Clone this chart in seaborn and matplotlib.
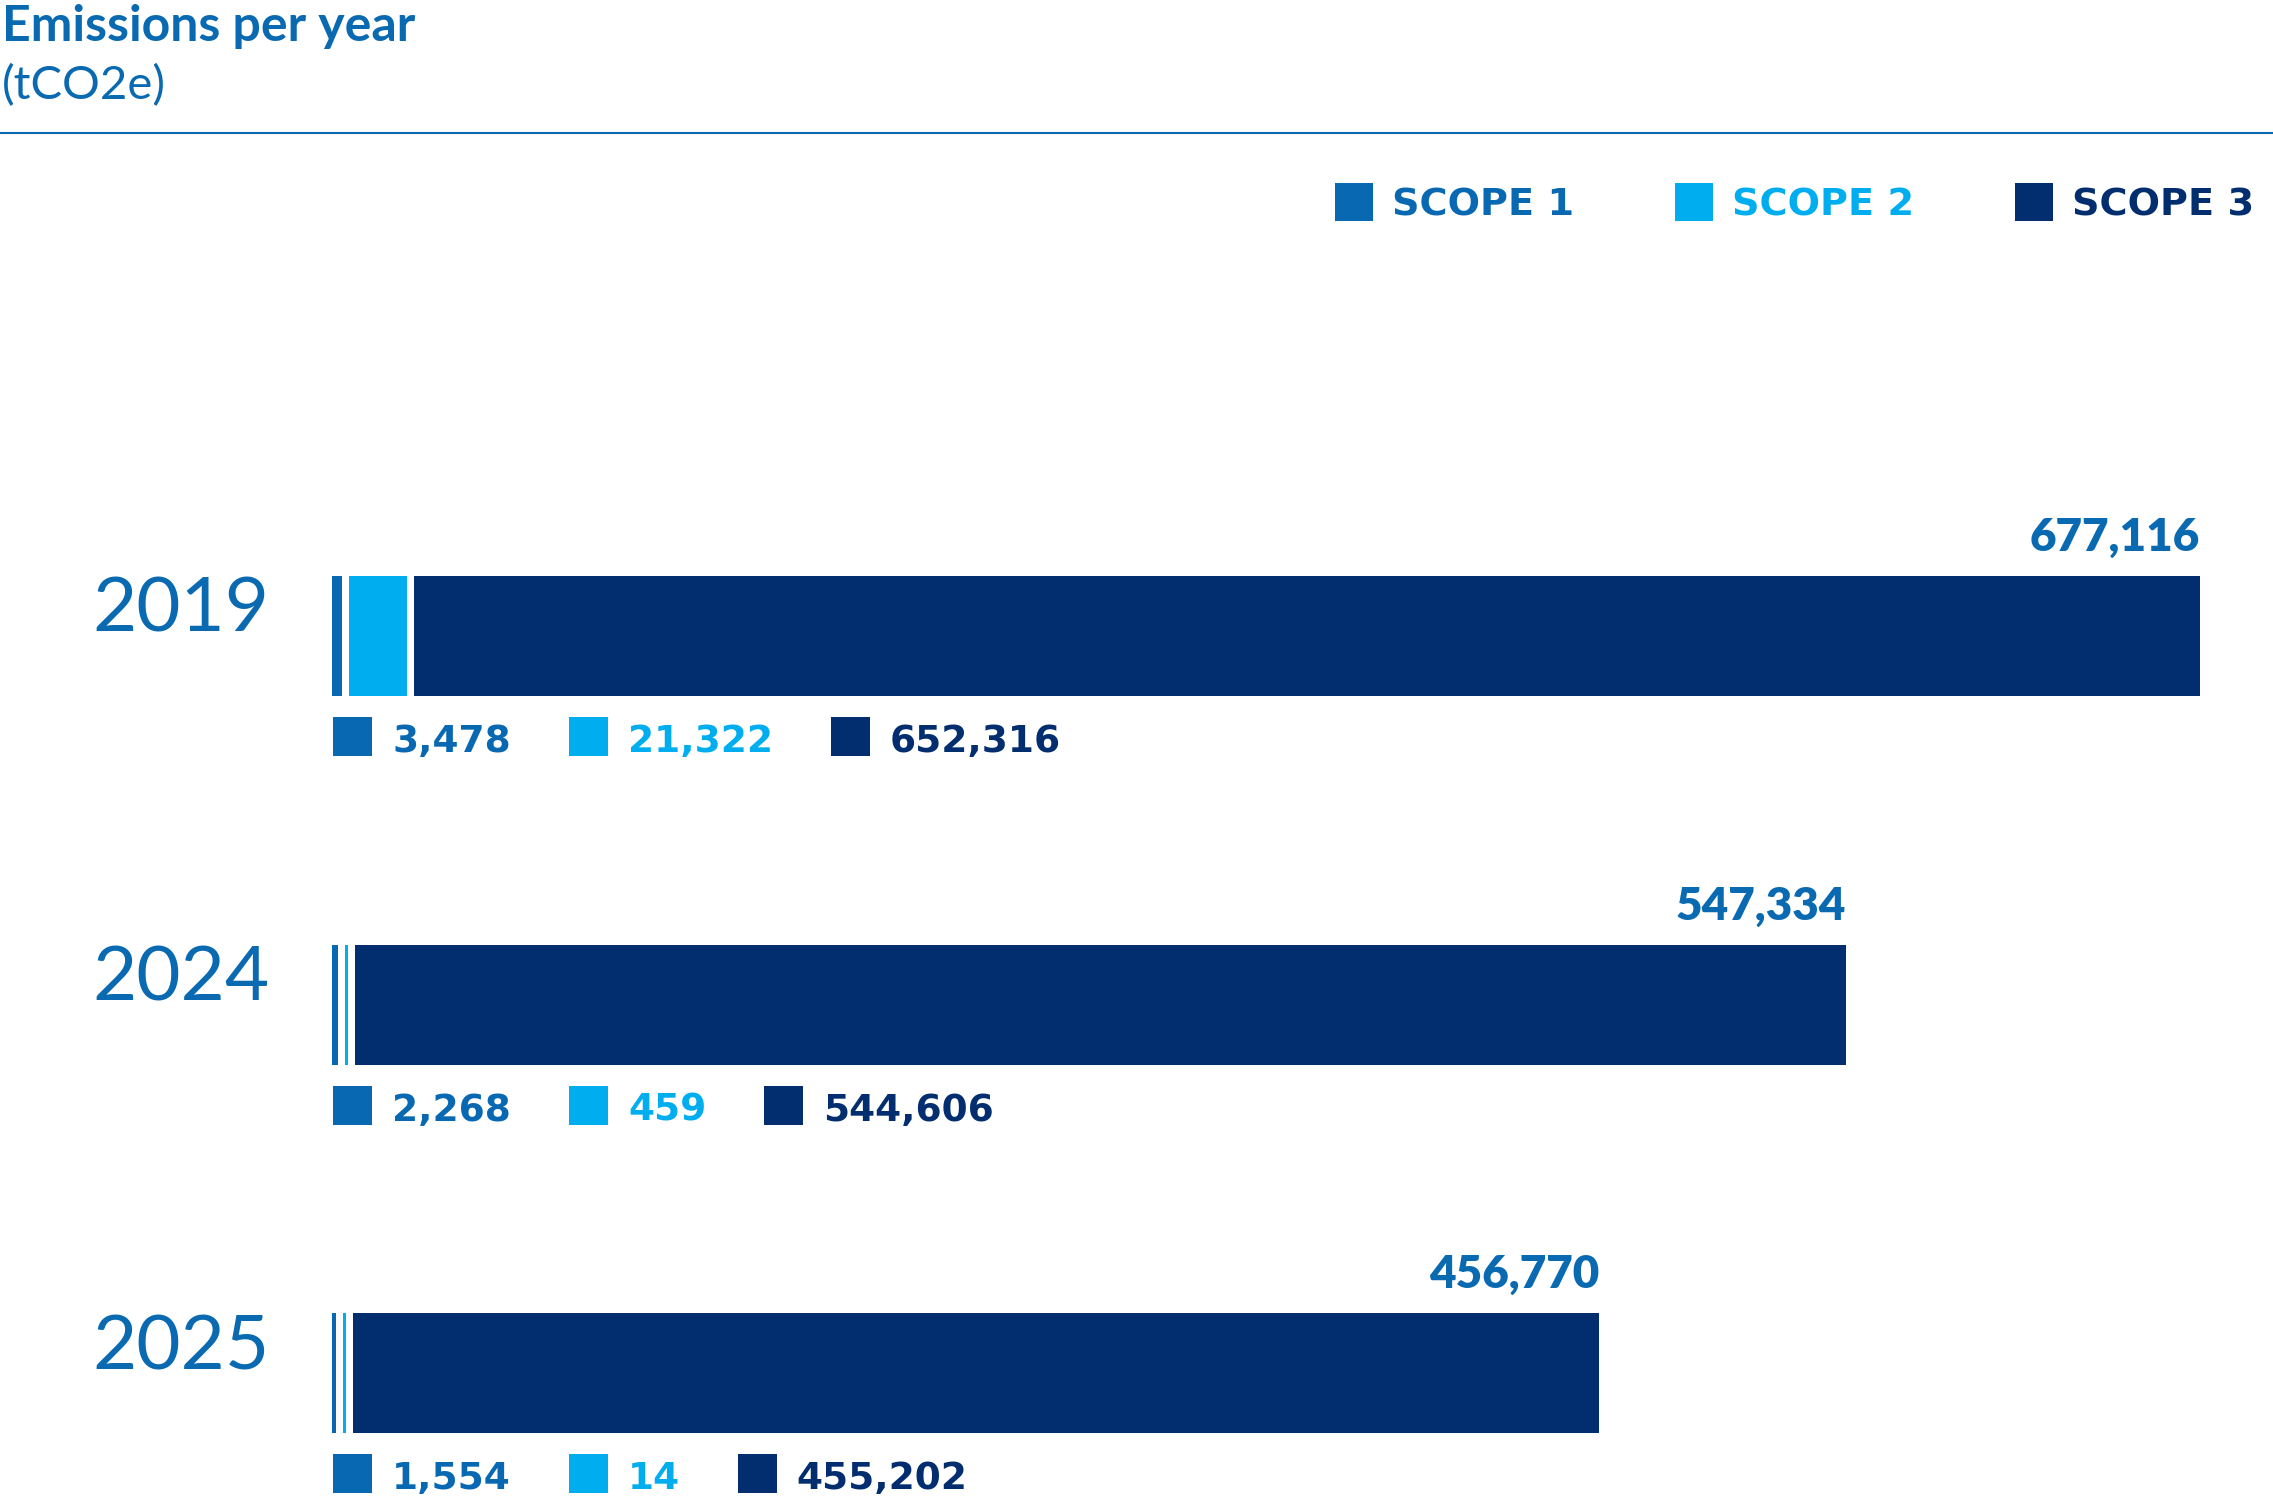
import matplotlib
matplotlib.use("Agg")
import matplotlib.pyplot as plt
import seaborn as sns
import numpy as np
import pandas as pd
from matplotlib.patches import Rectangle
from matplotlib.lines import Line2D

# ---------------- data ----------------
years = ["2019", "2024", "2025"]
scope1 = [3478, 2268, 1554]
scope2 = [21322, 459, 14]
scope3 = [652316, 544606, 455202]
totals = [677116, 547334, 456770]
scope_names = ["SCOPE 1", "SCOPE 2", "SCOPE 3"]
title = "Emissions per year"
subtitle = "(tCO2e)"

# ---------------- style ----------------
C1, C2, C3 = "#0868b1", "#00aeef", "#022d6e"
TXT = "#0a6ab1"
scope_colors = [C1, C2, C3]

sns.set_theme(style="white")
plt.rcParams["font.family"] = ["Lato", "DejaVu Sans"]

W, H, DPI = 2273, 1498, 100
fig = plt.figure(figsize=(W / DPI, H / DPI), dpi=DPI)
fig.patch.set_facecolor("white")


def fx(px):
    return px / W


def fy(py):
    return 1 - py / H


def pt(px):
    return px * 72 / DPI


AX_L, AX_R, AX_T = 332, 2232, 267.5
ROW = 368.5
ax = fig.add_axes([fx(AX_L), 0, (AX_R - AX_L) / W, (H - AX_T) / H])

upp = max(totals) * 1.025 / (AX_R - AX_L)  # data units per pixel
GAP = 7 * upp
MINW = 2.5 * upp
BAR_H = 120 / ROW

s1 = np.maximum(np.array(scope1, float), MINW)
s2 = np.maximum(np.array(scope2, float), MINW)
s3 = np.array(scope3, float)
left2 = s1 + GAP
left3 = left2 + s2 + GAP
ends = left3 + s3
ypos = np.arange(len(years))

df = pd.DataFrame({"year": years, "scope1": s1})
sns.barplot(data=df, x="scope1", y="year", color=C1, saturation=1,
            width=BAR_H, errorbar=None, linewidth=0, ax=ax, orient="h")
ax.barh(ypos, s2, left=left2, height=BAR_H, color=C2, linewidth=0)
ax.barh(ypos, s3, left=left3, height=BAR_H, color=C3, linewidth=0)

ax.set_xlim(0, max(totals) * 1.025)
ax.set_ylim(len(years) - 1 + (H - 1373) / ROW, -1)
ax.axis("off")

# totals above bars and year labels
for i, tot in enumerate(totals):
    ax.annotate(f"{tot:,}", xy=(ends[i], i - BAR_H / 2), xytext=(0, pt(25)),
                textcoords="offset points", ha="right", va="baseline",
                fontsize=33, fontweight="heavy", color=TXT)
    ax.annotate(years[i], xy=(0, i), xytext=(pt(92 - AX_L), pt(4)),
                textcoords="offset points", ha="left", va="baseline",
                fontsize=55, fontweight="normal", color=TXT)

# title / subtitle / rule
fig.text(fx(2), fy(41), title, fontsize=36, fontweight="bold", color=TXT,
         va="baseline", ha="left")
fig.text(fx(2), fy(99), subtitle, fontsize=34, fontweight="normal", color=TXT,
         va="baseline", ha="left")
fig.add_artist(Line2D([0, 1], [fy(133), fy(133)], transform=fig.transFigure,
                      color=TXT, lw=1.5))

fig.canvas.draw()
renderer = fig.canvas.get_renderer()


def flow_row(items, x0, top, sq, gap_t, gap_g, size, base_off):
    x = x0
    for label, col in items:
        fig.add_artist(Rectangle((fx(x), fy(top + sq)), sq / W, sq / H,
                                 transform=fig.transFigure, facecolor=col,
                                 edgecolor="none", linewidth=0))
        t = fig.text(fx(x + sq + gap_t), fy(top + sq - base_off), label,
                     color=col, fontsize=size, fontweight="bold",
                     family=["DejaVu Sans"], va="baseline", ha="left")
        bb = t.get_window_extent(renderer)
        x = bb.x1 + gap_g


# legend
flow_row(list(zip(scope_names, scope_colors)), 1335, 183, 38, 19, 101, 27.5, 5)

# value rows under each bar
for i in range(len(years)):
    x0 = ax.transData.transform((0, i))[0]
    bottom_px = H - ax.transData.transform((0, i + BAR_H / 2))[1]
    vals = [scope1[i], scope2[i], scope3[i]]
    flow_row([(f"{v:,}", c) for v, c in zip(vals, scope_colors)],
             x0 + 1, bottom_px + 21, 39, 20, 58, 27, 4)

fig.savefig("out.png", dpi=DPI, facecolor="white")
